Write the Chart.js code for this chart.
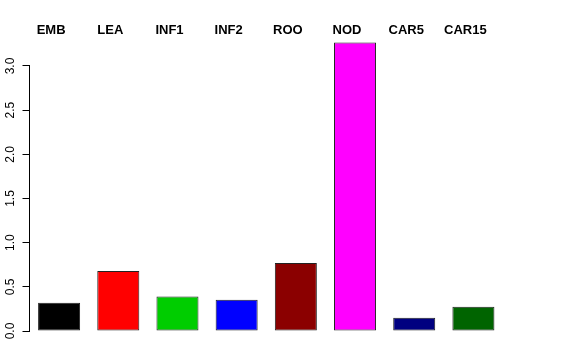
<!DOCTYPE html>
<html>

<head>
    <meta charset="utf-8" />
    <style>
        body { margin: 0; background: #fff; }
    </style>
</head>

<body>
    <canvas id="barChart" width="576" height="360"></canvas>

    <script src="https://cdn.jsdelivr.net/npm/chart.js@4.4.0/dist/chart.umd.min.js"></script>

    <script>
        // values
        const categories = ["EMB", "LEA", "INF1", "INF2", "ROO", "NOD", "CAR5", "CAR15"];
        const values = [0.32, 0.68, 0.39, 0.355, 0.77, 3.265, 0.15, 0.275];
        const barColors = ["#000000", "#ff0000", "#00cd00", "#0000ff", "#8b0000", "#ff00ff", "#000080", "#006400"];
        const yTicks = [0, 0.5, 1, 1.5, 2, 2.5, 3];

        // R style y axis line: only between first and last tick
        const axisLine = {
            id: 'axisLine',
            afterDraw(chart) {
                const y = chart.scales.y;
                const ctx = chart.ctx;
                const x = chart.chartArea.left;
                ctx.save();
                ctx.strokeStyle = "#000";
                ctx.lineWidth = 1;
                ctx.beginPath();
                ctx.moveTo(x, y.getPixelForValue(yTicks[0]));
                ctx.lineTo(x, y.getPixelForValue(yTicks[yTicks.length - 1]));
                ctx.stroke();
                ctx.restore();
            }
        };

        let ctx = document.getElementById('barChart');
        let chart = new Chart(ctx, {
            type: 'bar',
            data: {
                labels: categories,
                datasets: [{
                    data: values,
                    backgroundColor: barColors,
                    borderColor: "#222",
                    borderWidth: 1,
                    borderSkipped: false,
                    barPercentage: 0.71,
                    categoryPercentage: 1,
                    clip: false
                }]
            },
            options: {
                responsive: false,
                animation: false,
                layout: {
                    padding: { left: 0, right: 73, top: 0, bottom: 29 }
                },
                plugins: {
                    legend: { display: false },
                    tooltip: { enabled: false }
                },
                scales: {
                    x: {
                        position: 'top',
                        grid: { display: false, drawTicks: false },
                        border: { display: false },
                        ticks: {
                            color: "#000",
                            padding: 2,
                            labelOffset: -8,
                            font: { family: "Liberation Sans", size: 13, weight: 'bold' }
                        },
                        afterFit: s => { s.height = 40; }
                    },
                    y: {
                        min: 0,
                        max: 3.294,
                        grid: {
                            drawOnChartArea: false,
                            drawTicks: true,
                            tickLength: 7,
                            color: "#000"
                        },
                        border: { display: false },
                        ticks: {
                            color: "#000",
                            minRotation: 90,
                            maxRotation: 90,
                            crossAlign: 'center',
                            padding: 3,
                            font: { family: "Liberation Sans", size: 12 },
                            callback: v => v.toFixed(1)
                        },
                        afterBuildTicks: s => { s.ticks = yTicks.map(v => ({ value: v })); },
                        afterFit: s => { s.width = 29.5; }
                    }
                }
            },
            plugins: [axisLine]
        });
    </script>
</body>

</html>
